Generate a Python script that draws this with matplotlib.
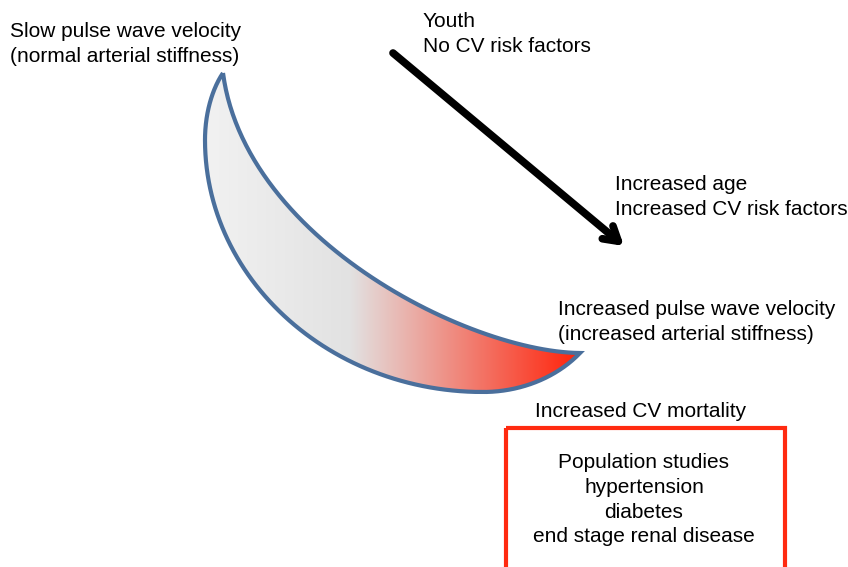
import numpy as np
import matplotlib
matplotlib.use("Agg")
import matplotlib.pyplot as plt
from matplotlib.path import Path
from matplotlib.patches import PathPatch, Rectangle

plt.rcParams['font.family'] = ['Liberation Sans', 'DejaVu Sans']

# --- crescent outline: cubic bezier segments (pixel coords, y down) ---
outer_segments = [
    [(223, 73), (214, 86), (205, 110), (205, 140)],
    [(205, 140), (205, 279), (330, 392), (483, 392)],
    [(483, 392), (520, 392), (556, 378), (580, 353)],
]
inner_segments = [
    [(580, 353), (470, 352), (245, 240), (223, 73)],
]

# --- arrow ---
arrow_start = (393, 53)
arrow_end = (624, 246)

# --- labels: (x, baseline y, text) ---
labels = [
    (10, 37, "Slow pulse wave velocity"),
    (10, 62, "(normal arterial stiffness)"),
    (423, 27, "Youth"),
    (423, 52, "No CV risk factors"),
    (615, 190, "Increased age"),
    (615, 215, "Increased CV risk factors"),
    (558, 315, "Increased pulse wave velocity"),
    (558, 340, "(increased arterial stiffness)"),
    (535, 417, "Increased CV mortality"),
]
box_lines = ["Population studies", "hypertension", "diabetes", "end stage renal disease"]
box_baselines = [468, 493, 518, 542]

gray_start = (242, 242, 242)
gray_mid = (226, 226, 226)
red_end = (255, 38, 14)


def bezier(seg, n=60):
    p0, p1, p2, p3 = [np.array(p, dtype=float) for p in seg]
    t = np.linspace(0, 1, n)[:, None]
    return ((1 - t) ** 3 * p0 + 3 * (1 - t) ** 2 * t * p1
            + 3 * (1 - t) * t ** 2 * p2 + t ** 3 * p3)


fig = plt.figure(figsize=(8.48, 5.67), dpi=100)
ax = fig.add_axes([0, 0, 1, 1])
ax.set_xlim(0, 848)
ax.set_ylim(567, 0)
ax.axis("off")

# crescent with horizontal gradient
verts = np.vstack([bezier(s) for s in outer_segments + inner_segments])
path = Path(verts)
xs = np.linspace(200, 585, 400)
cols = np.zeros((len(xs), 3))
g0, g1, r1 = np.array(gray_start), np.array(gray_mid), np.array(red_end)
for i, x in enumerate(xs):
    if x <= 350:
        f = (x - 200) / 150
        cols[i] = g0 + (g1 - g0) * f
    else:
        f = min((x - 350) / 225, 1)
        cols[i] = g1 + (r1 - g1) * f
grad = np.tile(cols[None, :, :] / 255, (10, 1, 1))
im = ax.imshow(grad, extent=[200, 585, 400, 65], aspect="auto", zorder=1)
patch = PathPatch(path, facecolor="none", edgecolor="#4a6f9c", lw=3, zorder=2,
                  joinstyle="miter")
ax.add_patch(patch)
im.set_clip_path(patch)

# arrow
ax.annotate("", xy=arrow_end, xytext=arrow_start,
            arrowprops=dict(arrowstyle="->,head_length=1.0,head_width=0.6",
                            lw=5.5, color="black", shrinkA=0, shrinkB=0))

fs = 15
for x, y, s in labels:
    ax.text(x, y, s, fontsize=fs, va="baseline", ha="left")

ax.add_patch(Rectangle((506, 428), 279, 145, fill=False, edgecolor="#ff2a10", lw=3, zorder=3))
for y, s in zip(box_baselines, box_lines):
    ax.text(644, y, s, fontsize=fs, ha="center", va="baseline")

fig.savefig("out.png", dpi=100)
